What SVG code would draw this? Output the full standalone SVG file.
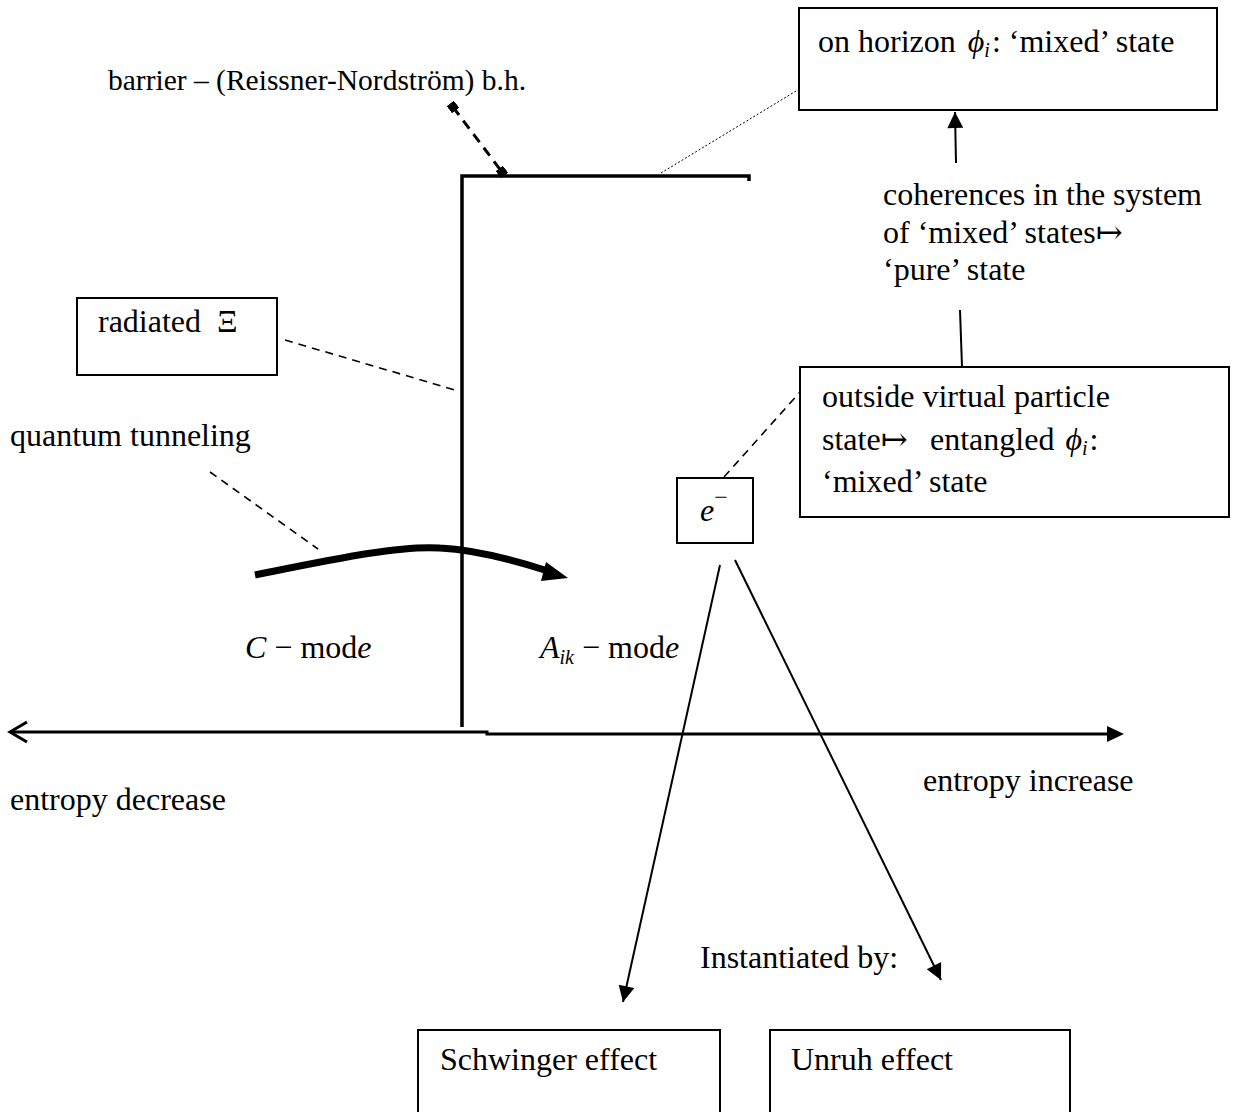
<svg xmlns="http://www.w3.org/2000/svg" width="1233" height="1112" viewBox="0 0 1233 1112">
<style>
text{font-family:"Liberation Serif","DejaVu Serif",serif;font-size:32px;fill:#000}
.it{font-style:italic}
.sub{font-size:20px;font-style:italic}
.box{fill:#fff;stroke:#000;stroke-width:2}
.ln{fill:none;stroke:#000;stroke-width:2}
.dash{fill:none;stroke:#000;stroke-width:1.6;stroke-dasharray:8,6}
</style>
<defs>
<marker id="triL" viewBox="0 0 10 10" refX="10" refY="5" markerWidth="18" markerHeight="16" markerUnits="userSpaceOnUse" orient="auto"><path d="M0,0 L10,5 L0,10 z" fill="#000"/></marker>
<marker id="sq" viewBox="0 0 10 10" refX="5" refY="5" markerWidth="9" markerHeight="9" markerUnits="userSpaceOnUse" orient="auto"><rect x="0" y="0" width="10" height="10" fill="#000"/></marker>
</defs>

<g id="connectors">
<polyline points="462,727 462,176 749,176 749,181" fill="none" stroke="#000" stroke-width="3.5"/>
<line x1="453" y1="107" x2="502" y2="172" stroke="#000" stroke-width="3" stroke-dasharray="10,7" marker-start="url(#sq)" marker-end="url(#sq)"/>
<line x1="661" y1="173" x2="801" y2="88" stroke="#000" stroke-width="1" stroke-dasharray="2,2"/>
<line x1="285" y1="340" x2="455" y2="390" class="dash"/>
<line x1="210" y1="472" x2="318" y2="549" class="dash"/>
<line x1="724" y1="477" x2="800" y2="392" class="dash"/>
<path d="M255,575 C330,560 400,545 440,548 C480,550 520,562 548,571" fill="none" stroke="#000" stroke-width="7"/>
<path d="M568,578 L541,581 L546,562 z" fill="#000"/>
<polyline points="10,732 487,732 487,734 1110,734" fill="none" stroke="#000" stroke-width="3"/>
<path d="M1124,734 L1107,726 L1107,742 z" fill="#000"/>
<polyline points="27,722 10,732 27,742" fill="none" stroke="#000" stroke-width="3"/>
<line x1="962" y1="367" x2="960" y2="310" class="ln"/>
<line x1="956" y1="163" x2="955" y2="112" class="ln" marker-end="url(#triL)"/>
<line x1="720" y1="565" x2="623" y2="1002" class="ln" marker-end="url(#triL)"/>
<line x1="735" y1="560" x2="941" y2="980" class="ln" marker-end="url(#triL)"/>
</g>

<g id="node-horizon">
<rect class="box" x="799" y="8" width="418" height="102"/>
<text x="818" y="52">on horizon <tspan class="it" dx="4">ϕ</tspan><tspan class="sub" dy="5">i</tspan><tspan dy="-5" dx="2">: ‘mixed’ state</tspan></text>
</g>

<g id="node-barrier">
<text x="108" y="90" style="font-size:29.5px">barrier – (Reissner-Nordström) b.h.</text>
</g>

<g id="node-radiated">
<rect class="box" x="77" y="298" width="200" height="77"/>
<text x="98" y="332">radiated <tspan dx="8">Ξ</tspan></text>
</g>

<g id="node-tunneling">
<text x="10" y="446">quantum tunneling</text>
</g>

<g id="node-cmode">
<text x="245" y="658"><tspan class="it">C</tspan> − mod<tspan class="it">e</tspan></text>
</g>

<g id="node-amode">
<text x="540" y="658"><tspan class="it">A</tspan><tspan class="sub" dy="6">ik</tspan><tspan dy="-6"> − mod</tspan><tspan class="it">e</tspan></text>
</g>

<g id="node-electron">
<rect class="box" x="677" y="478" width="76" height="65"/>
<text x="700" y="521" class="it">e<tspan dy="-16" style="font-size:24px;font-style:normal">−</tspan></text>
</g>

<g id="node-coherences">
<text x="883" y="205">coherences in the system</text>
<text x="883" y="243">of ‘mixed’ states↦</text>
<text x="883" y="280">‘pure’ state</text>
</g>

<g id="node-outside">
<rect class="box" x="800" y="367" width="429" height="150"/>
<text x="822" y="407">outside virtual particle</text>
<text x="822" y="450">state↦<tspan x="930">entangled </tspan><tspan class="it" dx="3">ϕ</tspan><tspan class="sub" dy="5">i</tspan><tspan dy="-5" dx="2">:</tspan></text>
<text x="822" y="492">‘mixed’ state</text>
</g>

<g id="node-entropy-dec">
<text x="10" y="810">entropy decrease</text>
</g>

<g id="node-entropy-inc">
<text x="923" y="791">entropy increase</text>
</g>

<g id="node-instantiated">
<text x="700" y="968">Instantiated by:</text>
</g>

<g id="node-schwinger">
<rect class="box" x="418" y="1030" width="302" height="90"/>
<text x="440" y="1070">Schwinger effect</text>
</g>

<g id="node-unruh">
<rect class="box" x="770" y="1030" width="300" height="90"/>
<text x="791" y="1070">Unruh effect</text>
</g>
</svg>
